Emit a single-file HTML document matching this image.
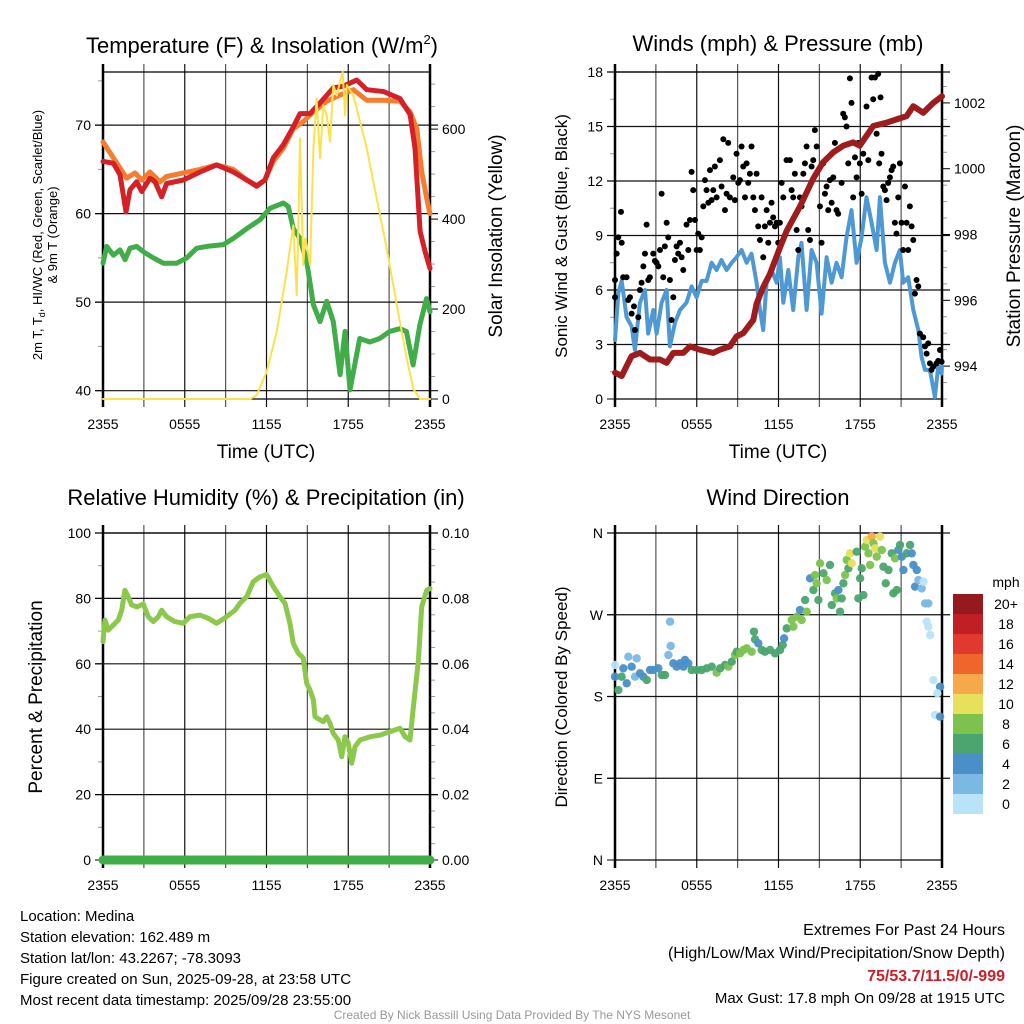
<!DOCTYPE html>
<html><head><meta charset="utf-8"><style>
body{margin:0;background:#fff}
svg{display:block;font-family:"Liberation Sans",Arial,sans-serif}
</style></head><body>
<svg id="c" width="1024" height="1024" viewBox="0 0 1024 1024"></svg>
<script>
// ---- data ----
const tempRedH=[0,0.76,1.25,1.69,1.98,2.47,2.84,3.45,3.82,4.31,4.67,5.9,7.12,8.34,9.57,10.55,11.28,11.89,12.5,13.24,13.97,14.46,15.2,15.93,16.9,17.64,18.62,19.36,20.58,21.8,22.54,22.9,23.27,23.64,24];
const tempRedV=[65.9,65.7,64.4,60.2,62.7,63.6,62.5,64.0,63.6,61.9,63.4,63.8,64.7,65.5,64.7,63.8,63.1,63.8,66.3,67.8,69.8,71.3,71.3,72.5,74.2,74.4,75.1,74.0,73.8,73.0,71.2,67.4,58.0,55.7,53.8];
const tempOrgH=[0,0.76,1.74,2.35,2.84,3.45,4.18,4.67,5.9,7.12,8.34,9.57,10.55,11.28,11.89,12.5,13.24,13.97,14.7,15.44,16.42,17.4,18.38,19.36,20.58,21.8,22.54,23.03,23.4,23.76,24];
const tempOrgV=[68.1,66.3,64.0,64.6,63.8,64.7,63.6,64.2,64.6,65.0,65.5,65.0,63.8,63.2,63.8,65.9,67.4,69.6,70.4,71.5,72.7,73.4,74.0,72.8,72.8,72.7,71.5,69.6,64.7,61.7,60.0];
const dewH=[0,0.27,0.76,1.25,1.62,1.98,2.47,2.96,3.69,4.43,5.41,6.14,6.88,7.61,8.83,9.57,10.55,11.52,12.26,13.24,13.6,13.97,14.46,14.95,15.44,15.93,16.42,16.9,17.4,17.76,18.13,18.84,19.58,20.31,21.04,21.78,22.27,22.76,23.25,23.74,24];
const dewV=[54.4,56.3,55.3,55.9,54.8,56.1,56.3,55.7,55.0,54.4,54.4,55.0,56.1,56.3,56.5,57.2,58.3,59.3,60.6,61.2,60.8,58.3,57.2,54.6,49.7,47.8,50.1,47.8,41.8,46.7,40.1,45.9,45.5,45.9,46.7,47.0,46.7,42.9,47.4,50.4,48.9];
const solH=[0,10.8,11.28,12.01,12.75,13.48,13.97,14.22,14.34,14.46,14.7,14.83,14.95,15.2,15.44,15.68,15.93,16.17,16.42,16.66,16.9,17.15,17.4,17.59,17.76,17.89,18.38,19.36,20.09,20.82,21.56,22.29,22.78,23.27,24];
const solV=[0,0,9,60,149,283,386,231,386,579,298,357,342,298,557,668,535,653,631,572,698,675,705,727,631,698,675,557,446,335,209,90,22,0,0];
const presH=[0,0.49,0.85,1.22,1.83,2.56,3.3,3.79,4.28,5.01,5.5,6.23,7.21,7.7,8.43,8.92,9.41,10.15,10.39,10.88,11.37,12.1,12.59,13.57,14.55,15.28,16.02,16.75,17.48,17.97,18.95,19.93,20.66,21.4,21.89,22.62,23.36,24];
const presV=[993.8,993.7,994.0,994.3,994.4,994.2,994.2,994.1,994.4,994.4,994.6,994.5,994.4,994.5,994.6,994.9,995.0,995.4,995.9,996.4,996.8,997.6,998.1,998.85,999.7,1000.2,1000.5,1000.7,1000.8,1000.7,1001.3,1001.4,1001.5,1001.6,1001.9,1001.7,1002.0,1002.2];
const windH=[0,0.24,0.49,0.85,1.22,1.46,1.83,2.2,2.44,2.81,3.05,3.42,3.79,4.03,4.4,4.77,5.25,5.62,5.99,6.36,6.72,7.09,7.46,7.82,8.19,8.56,8.92,9.29,9.66,10.02,10.39,10.64,10.88,11.13,11.49,11.86,12.1,12.35,12.72,13.08,13.45,13.69,14.06,14.43,14.8,15.16,15.53,15.9,16.26,16.63,16.99,17.36,17.73,18.1,18.46,18.83,19.2,19.44,19.81,20.18,20.54,20.91,21.15,21.52,21.89,22.26,22.5,22.75,23.11,23.48,23.72,23.97,24];
const windV=[3.25,5.8,6.5,4.5,4.0,2.7,5.3,6.0,3.6,4.9,3.6,5.3,6.0,2.9,4.2,4.9,5.3,6.2,5.6,6.5,6.5,7.5,7.1,7.65,7.1,7.5,7.8,8.2,7.5,8.0,6.4,4.9,3.8,6.4,7.1,6.4,7.8,5.3,7.1,4.9,7.8,8.6,4.9,8.2,7.5,4.7,7.8,6.4,7.5,6.7,8.9,10.4,7.5,8.9,11.1,9.7,8.2,11.1,7.5,6.4,7.5,8.2,6.4,6.7,4.9,3.8,2.3,1.6,1.6,0.1,1.8,1.4,1.8];
const gustH=[0,0,0.12,0.24,0.49,0.44,0.6,0.85,0.97,1.1,1.22,1.39,1.46,1.71,1.83,1.95,2.2,2.32,2.08,2.44,2.56,2.81,2.93,3.05,3.18,3.3,3.42,3.54,3.66,3.79,3.91,4.03,4.15,4.28,4.4,4.52,4.64,4.77,4.89,5.01,5.25,5.38,5.5,5.62,5.74,5.87,5.99,6.11,6.23,6.36,6.48,6.6,6.72,6.85,6.97,7.09,7.21,7.33,7.46,7.7,7.82,7.95,8.07,8.19,8.31,8.43,8.68,8.8,8.92,9.05,9.17,9.29,9.41,9.54,9.66,9.78,9.9,10.02,10.15,10.27,10.39,10.51,10.64,10.76,10.88,11.0,11.13,11.25,11.37,11.49,11.61,11.74,11.86,11.98,12.1,12.23,12.35,12.59,12.84,12.96,13.08,13.2,13.33,13.45,13.57,13.69,13.82,13.94,14.06,14.18,14.31,14.43,14.55,14.67,14.8,15.04,15.16,15.28,15.41,15.53,15.65,15.77,15.9,16.02,16.14,16.26,16.38,16.63,16.75,16.87,16.99,17.12,17.24,17.36,17.48,17.61,17.73,17.85,17.97,18.1,18.22,18.46,18.59,18.83,18.95,19.08,19.2,19.32,19.39,19.49,19.56,19.69,19.81,19.93,20.05,20.18,20.3,20.42,20.54,20.66,20.79,20.91,21.03,21.15,21.28,21.4,21.52,21.64,21.77,21.89,22.01,22.13,22.26,22.38,22.62,22.75,22.87,22.99,23.11,23.23,23.36,23.6,23.72,23.85,23.97];
const gustV=[5.6,6.55,8.0,8.9,8.6,10.3,6.7,6.7,5.45,5.6,4.7,5.1,3.8,4.5,6.0,6.4,8.0,9.6,7.3,6.55,6.7,8.0,7.6,7.5,7.3,8.2,11.3,6.7,8.4,9.7,8.9,6.55,4.35,5.6,7.65,8.4,8.0,8.6,7.8,7.1,9.6,8.2,9.85,12.5,11.5,9.85,8.2,9.1,8.2,8.9,10.6,12.05,11.5,10.8,12.6,10.95,11.5,12.8,11.1,13.15,11.7,14.3,10.4,11.3,14.1,11.1,12.2,10.95,13.5,11.9,12.05,13.9,12.8,11.1,12.97,11.9,12.4,13.9,11.1,10.4,12.4,9.5,8.75,11.1,7.8,9.5,10.4,8.6,9.7,10.8,10.0,9.5,9.7,8.6,9.7,11.9,11.1,13.15,13.15,11.5,11.1,12.4,9.3,8.2,11.1,10.6,12.4,12.97,13.9,9.3,8.75,12.8,13.15,14.8,13.9,10.6,8.6,12.97,11.3,11.7,10.4,12.05,10.8,12.2,14.1,10.4,10.2,11.9,15.7,15.5,15.0,12.97,17.65,16.3,11.1,13.3,12.2,14.1,12.97,11.3,13.5,16.1,13.15,17.7,16.5,17.7,14.6,17.9,12.97,16.6,13.5,11.7,11.5,10.95,11.9,12.2,12.6,12.8,9.7,9.1,11.1,12.97,9.7,8.2,11.7,9.7,8.2,10.6,9.5,8.75,5.8,6.55,6.2,3.6,3.4,2.9,2.5,3.06,1.96,1.6,1.78,1.96,2.1,2.7,2.05];
const rhH=[0,0.14,0.39,0.75,1.12,1.37,1.61,1.86,2.1,2.47,2.96,3.32,3.69,4.06,4.3,4.67,5.28,5.89,6.38,7.12,7.73,8.34,9.07,9.69,10.05,10.54,11.03,11.52,12.01,12.5,12.99,13.36,13.72,13.97,14.34,14.7,14.95,15.19,15.44,15.56,16.17,16.42,16.66,16.9,17.27,17.52,17.76,18.0,18.25,18.5,18.86,19.6,20.33,21.06,21.8,22.17,22.53,22.78,23.15,23.39,23.76,24];
const rhV=[66.8,73.4,70.3,71.8,73.4,76.4,82.5,80.5,78.0,77.4,78.3,74.4,72.9,74.4,76.4,74.4,72.9,72.4,74.4,74.9,73.9,72.4,74.4,76.4,78.5,80.5,85.1,86.6,87.3,83.6,80.5,78.5,72.4,66.2,63.2,61.7,54.0,52.0,48.9,43.8,42.3,43.8,41.8,38.7,36.7,31.6,37.7,35.7,29.6,34.7,36.7,37.7,38.2,39.2,40.3,37.7,36.7,46.9,61.1,77.4,82.5,83];
const precipH=[0,24];
const precipV=[0,0];
const dirH=[0,0,0.25,0.49,0.61,0.86,0.98,1.22,1.47,1.59,1.84,2.08,2.33,2.57,2.81,3.18,3.43,3.67,3.92,4.04,4.09,4.28,4.53,4.77,5.02,5.14,5.38,5.63,6.0,6.36,6.73,7.1,7.46,7.71,8.08,8.32,8.57,8.81,8.93,9.18,9.42,9.67,10.03,10.2,10.28,10.52,10.77,11.01,11.38,11.75,12.11,12.31,12.41,12.6,12.97,13.09,13.34,13.58,13.7,13.95,14.07,14.32,14.56,14.68,14.8,14.93,15.05,15.3,15.54,15.78,15.91,16.15,16.27,16.4,16.52,16.64,16.76,16.89,17.01,17.13,17.25,17.38,17.74,17.86,17.99,18.11,18.23,18.35,18.48,18.6,18.72,18.84,18.97,19.09,19.21,19.45,19.58,19.7,19.87,20.07,20.31,20.43,20.55,20.68,20.8,20.92,21.05,21.17,21.41,21.66,21.78,21.9,22.15,22.02,22.27,22.51,22.64,22.76,23.0,22.88,23.0,23.13,23.37,23.86,23.66,23.49,23.86];
const dirV=[214.7,201.8,187.1,201.8,211,194.5,223.8,212.8,201.8,222,205.5,201.8,198.1,209.2,209.2,211,203.6,203.6,225.7,262.4,235.6,216.5,212.8,216.5,212.8,220.2,216.5,209.2,209.2,209.2,211,212.8,206.2,211,214.7,212.8,218.3,225.7,229.3,227.5,231.2,233,229.3,251.4,242.9,238.5,231.2,229.3,231.2,227.5,231.2,236.7,244,255,264.2,256.9,267.9,275.2,264.2,286.2,273.4,310.1,297.2,313.7,304.6,286.2,326.6,315.6,308.2,324.8,280.7,293.6,288,297.2,273.4,288,304.6,313.7,330.3,321.1,337.6,326.6,339.4,288,310.1,321.1,291.7,344.9,352.3,337.6,324.8,356,348.6,343.1,334,356,341.3,322.9,304.6,319.3,337.6,293.6,332.1,297.2,341.3,346.8,333.9,319.3,337.6,346.8,337.6,324.8,319.3,300.9,308.2,299,306.4,282.5,282.5,262.4,256.9,247.7,198.1,190.8,183.5,159.6,157.8];
const dirSpd=[0,4,6,6,4,4,2,4,2,2,4,4,6,4,4,4,6,6,2,2,2,4,4,4,4,4,4,6,6,6,6,6,8,6,6,8,6,8,6,8,8,8,8,6,6,4,6,6,6,6,6,6,4,6,8,8,8,4,8,6,8,4,6,8,8,6,8,6,8,6,6,6,8,4,6,6,6,8,8,6,10,10,6,6,6,6,6,8,10,8,8,12,8,10,8,10,8,6,6,6,6,6,8,6,4,6,4,4,6,6,4,4,4,4,2,2,0,2,2,0,0,0,0,4,0,0,4];
const legendLabels=["20+","18","16","14","12","10","8","6","4","2","0"];
const legendColors=["#961a1d","#c11f26","#e03a2e","#f0652c","#f6a94a","#e6e05a","#7dc24f","#4aa56e","#4a8fc8","#7bb8e3","#b9e3f7"];
const xTickLabels=["2355","0555","1155","1755","2355"];

// ---- helpers ----
const NS="http://www.w3.org/2000/svg";
const svg=document.getElementById('c');
function mk(tag,attrs,parent){const e=document.createElementNS(NS,tag);for(const k in attrs)e.setAttribute(k,attrs[k]);(parent||svg).appendChild(e);return e;}
function txt(s,x,y,size,opts,parent){opts=opts||{};const t=mk('text',Object.assign({x:x,y:y,'font-size':size,'text-anchor':opts.anchor||'middle',fill:opts.fill||'#000'},opts.extra||{}),parent);t.textContent=s;return t;}
function lin(d0,d1,r0,r1){return v=>r0+(v-d0)/(d1-d0)*(r1-r0);}

const P={
 t:{x0:103,x1:430,y0:72,y1:399},
 w:{x0:615,x1:942,y0:72,y1:399},
 r:{x0:103,x1:430,y0:533,y1:860},
 d:{x0:615,x1:942,y0:533,y1:860}
};

function frame(p,name,leftTicks,rightTicks,gridVals,yl,yr){
 const g=mk('g',{});
 
 
 const xs=lin(0,24,p.x0,p.x1);
 for(let h=0;h<=24;h+=3){
  const x=xs(h);
  mk('line',{x1:x,y1:p.y0-8,x2:x,y2:p.y1+8,stroke:(h%6==0)?'#111':'#555','stroke-width':1.2},g);
 }
 gridVals.forEach(v=>{const y=yl(v);mk('line',{x1:p.x0-8,y1:y,x2:p.x1+8,y2:y,stroke:'#111','stroke-width':1.2},g);});
 leftTicks.forEach(tk=>{const y=yl(tk.v);mk('line',{x1:p.x0-(tk.l?8:5),y1:y,x2:p.x0,y2:y,stroke:tk.l?'#000':'#999','stroke-width':1},g);
   if(tk.l)txt(tk.l,p.x0-12,y+5,14,{anchor:'end'},g);});
 if(rightTicks)rightTicks.forEach(tk=>{const y=yr(tk.v);mk('line',{x1:p.x1,y1:y,x2:p.x1+(tk.l?8:5),y2:y,stroke:tk.l?'#000':'#999','stroke-width':1},g);
   if(tk.l)txt(tk.l,p.x1+12,y+5,14,{anchor:'start'},g);});
 mk('line',{x1:p.x0,y1:p.y0,x2:p.x1,y2:p.y0,stroke:'#000','stroke-width':1.2},g);
 mk('line',{x1:p.x0,y1:p.y1,x2:p.x1,y2:p.y1,stroke:'#000','stroke-width':1.2},g);
 mk('line',{x1:p.x0,y1:p.y0-8,x2:p.x0,y2:p.y1+8,stroke:'#000','stroke-width':2.5},g);
 mk('line',{x1:p.x1,y1:p.y0-8,x2:p.x1,y2:p.y1+8,stroke:'#000','stroke-width':2.5},g);
 xTickLabels.forEach((s,i)=>txt(s,xs(i*6),p.y1+30,14,{},g));
 return xs;
}
function path(xs,ys,H,V,color,w,name){
 let d='';H.forEach((h,i)=>{d+=(i?'L':'M')+xs(h).toFixed(1)+','+ys(V[i]).toFixed(1);});
 const e=mk('path',{d:d,fill:'none',stroke:color,'stroke-width':w,'stroke-linejoin':'round','stroke-linecap':'round'});
 
 
 return e;
}
function ticks(a,b,step,minor,fmt){const r=[];for(let v=a;v<=b+1e-9;v+=minor){const isM=Math.abs((v-a)/step-Math.round((v-a)/step))<1e-6;r.push({v:v,l:isM?fmt(v):null});}return r;}

// ---- Panel 1: temperature ----
{
 const p=P.t;
 const yT=lin(39.06,76.0,p.y1,p.y0), yS=lin(0,727,p.y1,p.y0);
 const xs=frame(p,'temperature-panel',ticks(40,75,10,5,v=>String(v)),ticks(0,700,200,50,v=>String(v)),[40,50,60,70],yT,yS);
 path(xs,yT,tempOrgH,tempOrgV,'#f47d30',5,'line-9m-temperature');
 path(xs,yT,tempRedH,tempRedV,'#d42027',5,'line-2m-temperature');
 path(xs,yT,dewH,dewV,'#41ad48',5,'line-dewpoint');
 path(xs,yS,solH,solV,'#fbe24d',2,'line-solar-insolation');
 const t=txt('Temperature (F) & Insolation (W/m',262,53,22);
 const ts=mk('tspan',{'font-size':13,dy:-9},t);ts.textContent='2';
 const ts2=mk('tspan',{dy:9},t);ts2.textContent=')';
 txt('Time (UTC)',266,458,19);
 const a=txt('2m T, T',0,0,13,{extra:{transform:'translate(42,235) rotate(-90)'}});
 
 const s1=mk('tspan',{'font-size':9,dy:3},a);s1.textContent='d';
 const s2=mk('tspan',{dy:-3},a);s2.textContent=', HI/WC (Red, Green, Scarlet/Blue)';
 txt('& 9m T (Orange)',0,0,13,{extra:{transform:'translate(57,235) rotate(-90)'}});
 txt('Solar Insolation (Yellow)',0,0,19,{extra:{transform:'translate(502,236) rotate(-90)'}});
}
// ---- Panel 2: winds ----
{
 const p=P.w;
 const yW=lin(0,18,p.y1,p.y0), yP=lin(993.0,1002.94,p.y1,p.y0);
 const xs=frame(p,'winds-panel',ticks(0,18,3,1.5,v=>String(v)),ticks(993,1002.5,2,0.5,v=>(Math.round(v)%2==0?String(Math.round(v)):null)).map(t=>({v:t.v,l:(Math.abs(t.v-Math.round(t.v))<1e-6&&Math.round(t.v)%2==0)?String(Math.round(t.v)):null})),[3,6,9,12,15,18],yW,yP);
 path(xs,yW,windH,windV,'#4e98d3',4,'line-sonic-wind');
 const g=mk('g',{});
 gustH.forEach((h,i)=>{const c=mk('circle',{cx:xs(h),cy:yW(gustV[i]),r:3,fill:'#000'},g);
  
  });
 path(xs,yP,presH,presV,'#9e1b1e',6,'line-station-pressure');
 txt('Winds (mph) & Pressure (mb)',778,51,22);
 txt('Time (UTC)',778,458,19);
 txt('Sonic Wind & Gust (Blue, Black)',0,0,17,{extra:{transform:'translate(567,236) rotate(-90)'}});
 txt('Station Pressure (Maroon)',0,0,19,{extra:{transform:'translate(1020,236) rotate(-90)'}});
}
// ---- Panel 3: RH ----
{
 const p=P.r;
 const yR=lin(0,100,p.y1,p.y0), yPr=lin(0,0.1,p.y1,p.y0);
 const xs=frame(p,'humidity-panel',ticks(0,100,20,10,v=>String(Math.round(v))),ticks(0,0.1,0.02,0.005,v=>v.toFixed(2)).map(t=>({v:t.v,l:(Math.abs(t.v/0.02-Math.round(t.v/0.02))<1e-6)?t.v.toFixed(2):null})),[20,40,60,80,100],yR,yPr);
 path(xs,yR,rhH,rhV,'#8cc84b',5,'line-relative-humidity');
 path(xs,yPr,precipH,precipV,'#41ad48',9,'line-precipitation');
 txt('Relative Humidity (%) & Precipitation (in)',266,505,22);
 txt('Percent & Precipitation',0,0,19,{extra:{transform:'translate(42,697) rotate(-90)'}});
}
// ---- Panel 4: wind direction ----
{
 const p=P.d;
 const yD=lin(0,360,p.y1,p.y0);
 const lbl=['N','E','S','W','N'];
 const xs=frame(p,'wind-direction-panel',[0,90,180,270,360].map((v,i)=>({v:v,l:lbl[i]})),null,[90,180,270,360],yD,null);
 const g=mk('g',{});
 dirH.forEach((h,i)=>{const idx=10-Math.min(10,Math.round(dirSpd[i]/2));
  const c=mk('circle',{cx:xs(h),cy:yD(dirV[i]),r:4.2,fill:legendColors[idx],'fill-opacity':0.95},g);
  
  });
 txt('Wind Direction',778,505,22);
 txt('Direction (Colored By Speed)',0,0,17,{extra:{transform:'translate(567,697) rotate(-90)'}});
 const lg=mk('g',{});
 txt('mph',1006,587,14,{},lg);
 legendLabels.forEach((s,i)=>{const y=594+i*20;
  const r=mk('rect',{x:953,y:y,width:30,height:20,fill:legendColors[i]},lg);
  
  
  txt(s,1006,y+15,14,{},lg);});
}
// ---- footer text ----
{
 const L=['Location: Medina','Station elevation: 162.489 m','Station lat/lon: 43.2267; -78.3093','Figure created on Sun, 2025-09-28, at 23:58 UTC','Most recent data timestamp: 2025/09/28 23:55:00'];
 const g=mk('g',{});
 L.forEach((s,i)=>txt(s,20,921+i*21,15,{anchor:'start'},g));
 const g2=mk('g',{});
 txt('Extremes For Past 24 Hours',1005,935,16,{anchor:'end'},g2);
 txt('(High/Low/Max Wind/Precipitation/Snow Depth)',1005,958,16,{anchor:'end'},g2);
 txt('75/53.7/11.5/0/-999',1005,981,16,{anchor:'end',fill:'#c8202a',extra:{'font-weight':'bold'}},g2);
 txt('Max Gust: 17.8 mph On 09/28 at 1915 UTC',1005,1003,15,{anchor:'end'},g2);
 txt('Created By Nick Bassill Using Data Provided By The NYS Mesonet',512,1019,12,{fill:'#999'});
}
</script>
</body></html>
